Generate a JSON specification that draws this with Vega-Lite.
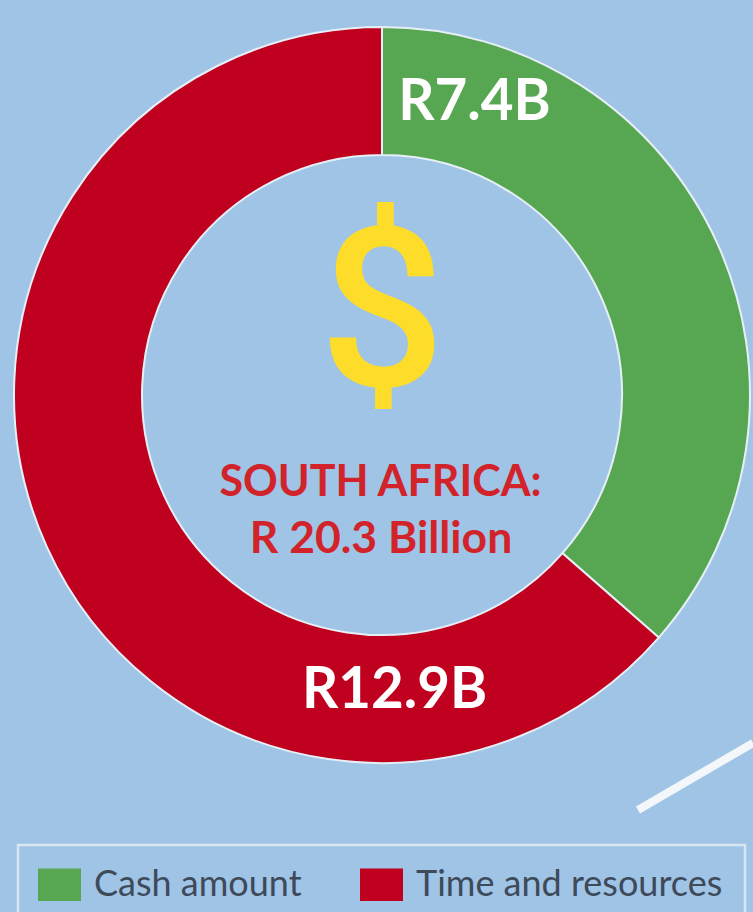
{
 "$schema":"https://vega.github.io/schema/vega-lite/v6.json",
 "width":753,"height":912,"padding":0,"autosize":"none","background":"#a0c4e6",
 "config":{"view":{"stroke":null}},
 "encoding":{
    "x":{"field":"px","type":"quantitative","scale":{"domain":[0,753]},"axis":null},
    "y":{"field":"py","type":"quantitative","scale":{"domain":[912,0]},"axis":null}
 },
 "layer":[
  {"data":{"values":[{"part":"Cash amount","value":7.4,"order":1,"px":382,"py":395},{"part":"Time and resources","value":12.9,"order":2,"px":382,"py":395}]},
   "mark":{"type":"arc","outerRadius":368,"innerRadius":240,"stroke":"#e6eff6","strokeWidth":2},
   "encoding":{
    "theta":{"field":"value","type":"quantitative","stack":true},
    "order":{"field":"order"},
    "color":{"field":"part","type":"nominal","sort":["Cash amount","Time and resources"],
      "scale":{"domain":["Cash amount","Time and resources"],"range":["#57a651","#c0001f"]},
      "legend":{"title":null,"orient":"none","legendX":20,"legendY":845,"direction":"horizontal","symbolType":"M-1,-0.76H1V0.76H-1Z","symbolSize":1849,"symbolStrokeWidth":0,"symbolOpacity":1,"labelFont":"Lato","labelFontSize":36,"labelColor":"#3e4a5a","labelLimit":330,"columnPadding":58,"padding":18,"labelOffset":13}}
    }},
  {"data":{"values":[{"px":18,"px2":745,"py":845,"py2":930}]},
   "mark":{"type":"rect","fillOpacity":0,"stroke":"#d8e6f2","strokeWidth":2.5},
   "encoding":{"x2":{"field":"px2"},"y2":{"field":"py2"}}},
  {"data":{"values":[{"t":"R7.4B","px":474.5,"py":103},{"t":"R12.9B","px":394.5,"py":691}]},
   "mark":{"type":"text","font":"Lato","fontWeight":"bold","fontSize":56.5,"baseline":"middle","align":"center","color":"#ffffff"},
   "encoding":{"text":{"field":"t"}}},
  {"data":{"values":[{"t":"SOUTH AFRICA:","px":380.5,"py":483}]},
   "mark":{"type":"text","font":"Lato","fontWeight":"bold","fontSize":43,"baseline":"middle","align":"center","color":"#d2232a"},
   "encoding":{"text":{"field":"t"}}},
  {"data":{"values":[{"t":"R 20.3 Billion","px":381,"py":540}]},
   "mark":{"type":"text","font":"Lato","fontWeight":"bold","fontSize":44.5,"baseline":"middle","align":"center","color":"#d2232a"},
   "encoding":{"text":{"field":"t"}}},
  {"data":{"values":[{"t":"$","px":382,"py":319}]},
   "mark":{"type":"text","font":"Roboto","fontWeight":500,"fontSize":222,"baseline":"middle","align":"center","color":"#fddc2a"},
   "encoding":{"text":{"field":"t"}}},
  {"data":{"values":[{"px":638,"py":810},{"px":753,"py":743}]},
   "mark":{"type":"line","color":"#f4f7fa","strokeWidth":8},
   "encoding":{}}
 ],
 "resolve":{"scale":{"color":"independent"}}
}
